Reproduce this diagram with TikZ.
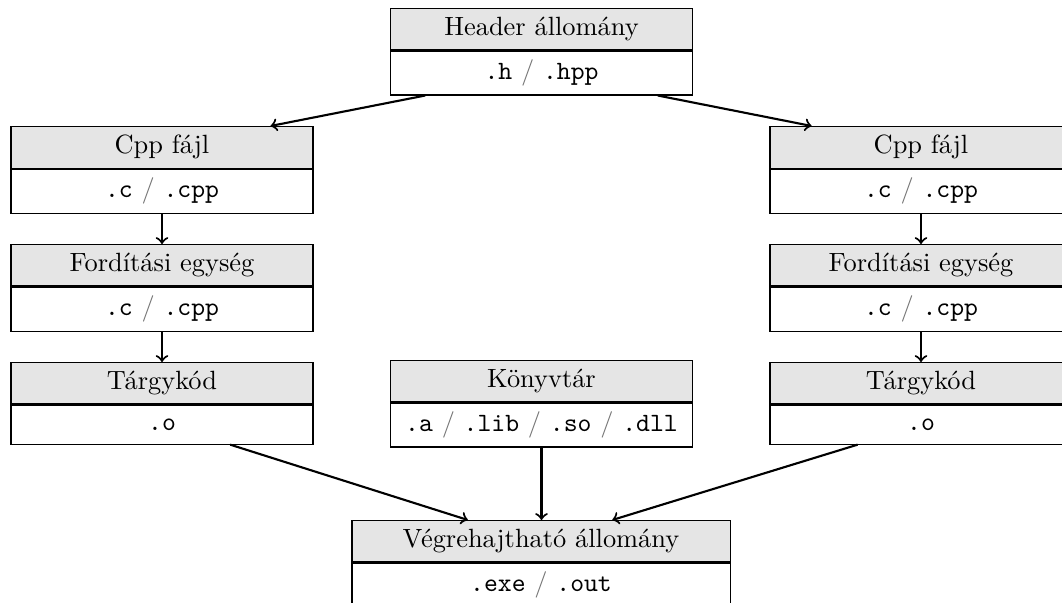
\documentclass[tikz,border=0pt]{standalone}
\usetikzlibrary{calc}
\newcommand{\slsep}{\textcolor{black!55}{/}}
\begin{document}
\begin{tikzpicture}[x=0.3788pt,y=-0.3788pt,
  headbox/.style={draw, line width=0.4pt, fill=gray!20, minimum width=114.4pt, anchor=north},
  extbox/.style={draw, line width=0.4pt, fill=white, minimum width=114.4pt, anchor=north},
  arr/.style={->, thick}]
\useasboundingbox (0,0) rectangle (1062,603);
% Header
\node[headbox] (ht) at (541.5,8) {Header állomány};
\node[extbox] (hb) at (ht.south) {\texttt{.h} \slsep{} \texttt{.hpp}};
% Left column
\node[headbox] (lct) at (162,126) {Cpp fájl};
\node[extbox] (lcb) at (lct.south) {\texttt{.c} \slsep{} \texttt{.cpp}};
\node[headbox] (lft) at (162,244) {Fordítási egység};
\node[extbox] (lfb) at (lft.south) {\texttt{.c} \slsep{} \texttt{.cpp}};
\node[headbox] (ltt) at (162,362) {Tárgykód};
\node[extbox, minimum height=14.8pt] (ltb) at (ltt.south) {\texttt{.o}};
% Right column
\node[headbox] (rct) at (921,126) {Cpp fájl};
\node[extbox] (rcb) at (rct.south) {\texttt{.c} \slsep{} \texttt{.cpp}};
\node[headbox] (rft) at (921,244) {Fordítási egység};
\node[extbox] (rfb) at (rft.south) {\texttt{.c} \slsep{} \texttt{.cpp}};
\node[headbox] (rtt) at (921,362) {Tárgykód};
\node[extbox, minimum height=14.8pt] (rtb) at (rtt.south) {\texttt{.o}};
% Library
\node[headbox] (kt) at (541.5,360) {Könyvtár};
\node[extbox] (kb) at (kt.south) {\texttt{.a} \slsep{} \texttt{.lib} \slsep{} \texttt{.so} \slsep{} \texttt{.dll}};
% Executable
\node[headbox, minimum width=143.2pt] (vt) at (541,520) {Végrehajtható állomány};
\node[extbox, minimum width=143.2pt] (vb) at (vt.south) {\texttt{.exe} \slsep{} \texttt{.out}};
% Arrows
\draw[arr] ($(hb.south west)!0.116!(hb.south east)$) -- ($(lct.north west)!0.858!(lct.north east)$);
\draw[arr] ($(hb.south west)!0.884!(hb.south east)$) -- ($(rct.north west)!0.139!(rct.north east)$);
\draw[arr] (lcb.south) -- (lft.north);
\draw[arr] (lfb.south) -- (ltt.north);
\draw[arr] (rcb.south) -- (rft.north);
\draw[arr] (rfb.south) -- (rtt.north);
\draw[arr] ($(ltb.south west)!0.725!(ltb.south east)$) -- ($(vt.north west)!0.307!(vt.north east)$);
\draw[arr] ($(rtb.south west)!0.291!(rtb.south east)$) -- ($(vt.north west)!0.688!(vt.north east)$);
\draw[arr] (kb.south) -- (kb.south |- vt.north);
\end{tikzpicture}
\end{document}
